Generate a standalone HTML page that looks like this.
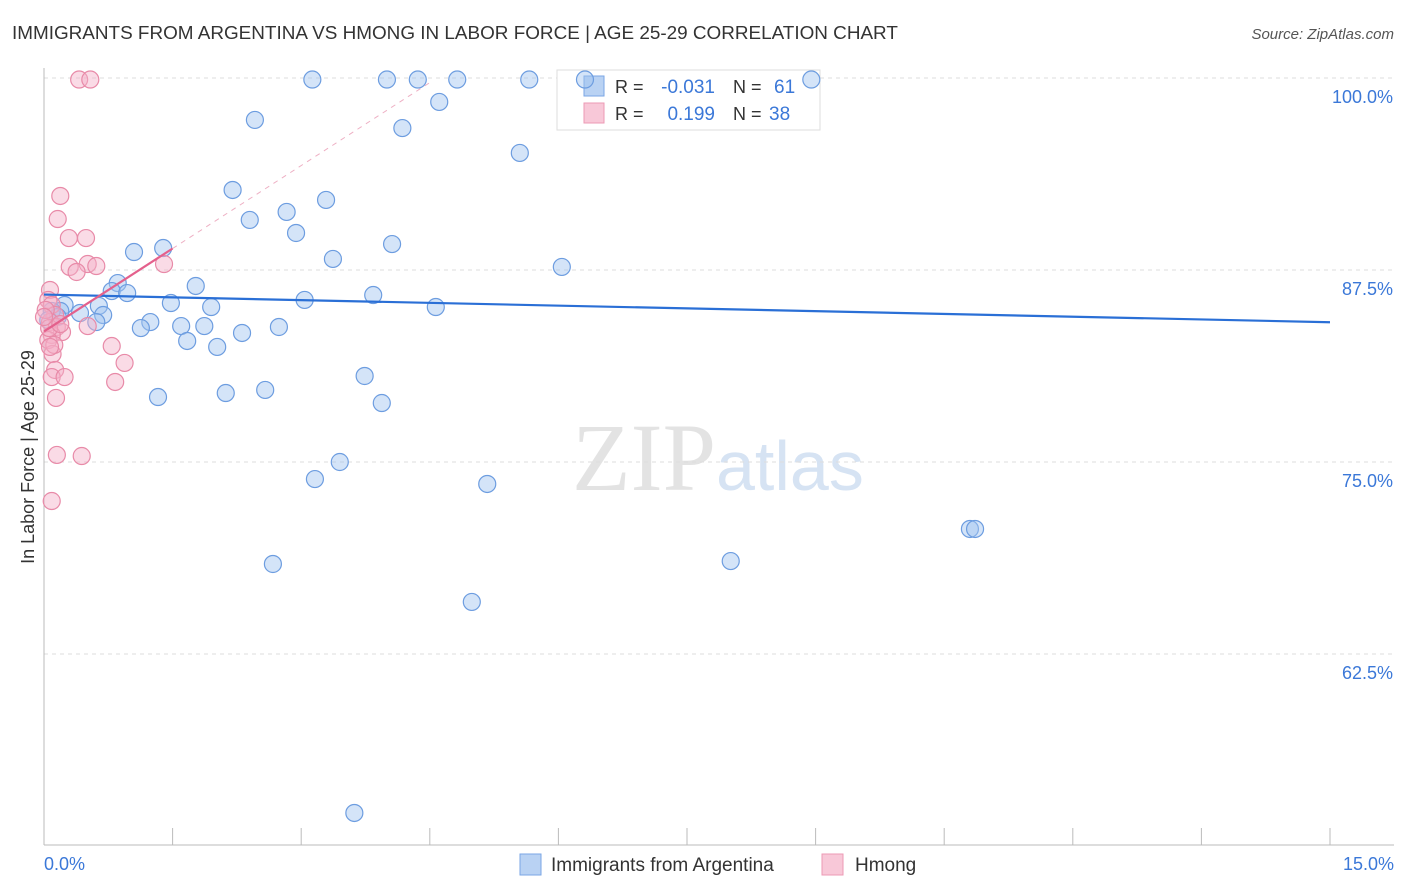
<!DOCTYPE html>
<html><head><meta charset="utf-8"><style>
body{margin:0;background:#fff;font-family:"Liberation Sans",sans-serif;}
svg{display:block}
</style></head><body>
<svg id="chart" width="1406" height="892">
<text x="12" y="39" font-size="18.9" fill="#333">IMMIGRANTS FROM ARGENTINA VS HMONG IN LABOR FORCE | AGE 25-29 CORRELATION CHART</text>
<text x="1394" y="39" font-size="15" fill="#555" font-style="italic" text-anchor="end">Source: ZipAtlas.com</text>
<text x="716" y="490" font-size="96" fill="#e3e3e3" text-anchor="end" font-family="Liberation Serif,serif">ZIP</text>
<text x="716" y="490" font-size="70" fill="#d6e3f3">atlas</text>
<g id="grid"></g>
<g id="axes"></g>
<g>
<rect x="557" y="70" width="263" height="60" fill="#fff" stroke="#ddd"/>
<rect x="584" y="76" width="20" height="20" fill="#b9d2f3" stroke="#7aa6e4"/>
<rect x="584" y="103" width="20" height="20" fill="#f8c8d8" stroke="#ec9ab4"/>
<text x="615" y="93" font-size="18" fill="#333">R =</text>
<text x="715" y="93" font-size="19" fill="#3b78d8" text-anchor="end">-0.031</text>
<text x="733" y="93" font-size="18" fill="#333">N =</text>
<text x="774" y="93" font-size="19" fill="#3b78d8">61</text>
<text x="615" y="120" font-size="18" fill="#333">R =</text>
<text x="715" y="120" font-size="19" fill="#3b78d8" text-anchor="end">0.199</text>
<text x="733" y="120" font-size="18" fill="#333">N =</text>
<text x="769" y="120" font-size="19" fill="#3b78d8">38</text>
</g>
<g id="pts"></g>
<g id="lines"></g>
<text transform="translate(34,457) rotate(-90)" font-size="18" fill="#333" text-anchor="middle">In Labor Force | Age 25-29</text>
<text x="44" y="870" font-size="18" fill="#3b78d8">0.0%</text>
<text x="1394" y="870" font-size="18" fill="#3b78d8" text-anchor="end">15.0%</text>
<g>
<rect x="520" y="854" width="21" height="21" fill="#b9d2f3" stroke="#7aa6e4"/>
<text x="551" y="871" font-size="19" fill="#333">Immigrants from Argentina</text>
<rect x="822" y="854" width="21" height="21" fill="#f8c8d8" stroke="#ec9ab4"/>
<text x="855" y="871" font-size="19" fill="#333">Hmong</text>
</g>
</svg>
<script>
const yTicks=[100,87.5,75,62.5];
const yTickLabels=["100.0%","87.5%","75.0%","62.5%"];
const blueX=[3.13,4.00,4.36,4.82,5.66,6.31,8.95,2.46,4.61,4.18,5.55,2.20,3.29,2.83,2.40,2.94,4.06,3.37,1.05,1.39,6.04,0.86,1.77,0.79,0.97,0.24,0.64,0.19,1.48,1.95,3.04,3.84,4.57,0.42,0.69,1.24,0.61,1.13,1.60,1.87,2.74,2.31,1.67,2.02,2.58,2.12,1.33,3.74,3.94,3.45,3.16,5.17,10.80,10.86,2.67,8.01,4.99,3.62,0.09,0.16,0.05];
const blueY=[99.9,99.9,99.9,99.9,99.9,99.9,99.9,97.27,98.44,96.74,95.12,92.71,92.06,91.28,90.76,89.91,89.19,88.22,88.67,88.93,87.70,86.65,86.46,86.13,86.00,85.22,85.16,84.83,85.35,85.09,85.55,85.87,85.09,84.70,84.57,84.11,84.11,83.72,83.85,83.85,83.79,83.40,82.88,82.49,79.69,79.49,79.23,80.60,78.84,75.00,73.89,73.57,70.64,70.64,68.36,68.55,65.89,52.15,84.83,84.44,84.24];
const pinkX=[0.41,0.54,0.19,0.16,0.29,0.49,0.30,0.51,0.61,0.38,1.40,0.07,0.05,0.09,0.13,0.07,0.15,0.21,0.09,0.05,0.51,0.79,0.10,0.94,0.13,0.09,0.24,0.83,0.14,0.15,0.44,0.09,0.02,0.06,0.19,0.12,0.07,0.00];
const pinkY=[99.9,99.9,92.32,90.82,89.58,89.58,87.70,87.89,87.76,87.37,87.89,86.20,85.55,85.22,84.57,84.11,83.79,83.46,83.27,82.94,83.85,82.55,82.03,81.45,80.99,80.53,80.53,80.21,79.17,75.46,75.39,72.46,84.90,83.72,83.98,82.62,82.49,84.44];
const blueTrend=[85.9,84.1];
const pinkTrend=[83.5,88.9];
const NS="http://www.w3.org/2000/svg";
const X=v=>44+v/15*1286;
const Y=v=>78+(100-v)/12.5*192;
function mk(t,a,p){const e=document.createElementNS(NS,t);for(const k in a)e.setAttribute(k,a[k]);document.getElementById(p).appendChild(e);return e;}
yTicks.forEach((t,i)=>{
 const g=mk('line',{x1:44,x2:1394,y1:Y(t),y2:Y(t),stroke:'#ddd','stroke-dasharray':'4,4'},'grid');
 
 
 const l=mk('text',{x:1393,y:Y(t)+25,'font-size':18,fill:'#3b78d8','text-anchor':'end'},'grid');
 l.textContent=yTickLabels[i];
 
 
});
let a=mk('line',{x1:44,x2:44,y1:68,y2:845,stroke:'#bbb'},'axes');


a=mk('line',{x1:44,x2:1394,y1:845,y2:845,stroke:'#bbb'},'axes');


for(let i=0;i<=10;i++){const t=mk('line',{x1:X(i*1.5),x2:X(i*1.5),y1:828,y2:845,stroke:'#bbb'},'axes');
 
 }
blueX.forEach((v,i)=>{const c=mk('circle',{cx:X(v),cy:Y(blueY[i]),r:8.5,fill:'rgba(160,195,240,0.45)',stroke:'#6d9de0','stroke-width':1.2},'pts');
 
 });
pinkX.forEach((v,i)=>{const c=mk('circle',{cx:X(v),cy:Y(pinkY[i]),r:8.5,fill:'rgba(245,175,200,0.45)',stroke:'#e88aa8','stroke-width':1.2},'pts');
 
 });
let ln=mk('line',{x1:X(0),x2:X(15),y1:Y(blueTrend[0]),y2:Y(blueTrend[1]),stroke:'#2a6fd6','stroke-width':2.2},'lines');


const slope=(pinkTrend[1]-pinkTrend[0])/1.5;
ln=mk('line',{x1:X(1.5),x2:X(4.5),y1:Y(pinkTrend[1]),y2:Y(pinkTrend[0]+slope*4.5),stroke:'#eeb0c4','stroke-width':1,'stroke-dasharray':'5,5'},'lines');


ln=mk('line',{x1:X(0),x2:X(1.5),y1:Y(pinkTrend[0]),y2:Y(pinkTrend[1]),stroke:'#e4608c','stroke-width':2.2},'lines');


</script>
</body></html>
